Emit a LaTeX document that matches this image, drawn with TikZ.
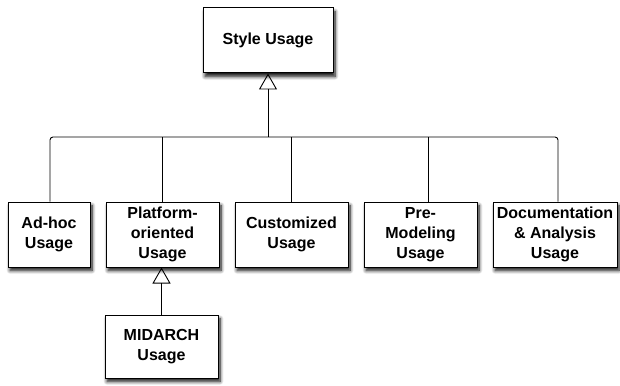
\documentclass[tikz,border=0pt]{standalone}
\usepackage{fontspec}
\setmainfont{Liberation Sans}
\usetikzlibrary{arrows.meta,shadows.blur}
\begin{document}
\begin{tikzpicture}[x=1pt,y=-1pt,
  usage/.style={draw=black, line width=1pt, fill=white, rectangle, align=center,
    minimum height=65pt, inner sep=2pt,
    font=\fontsize{16}{20}\selectfont\bfseries,
    blur shadow={shadow xshift=2pt, shadow yshift=-3.5pt, shadow blur steps=8, shadow blur radius=3.5pt, shadow opacity=95}},
  conn/.style={line width=0.9pt, draw=black},
  gen/.style={conn, -{Triangle[open, width=18pt, length=16pt, line width=0.9pt]}}]
\useasboundingbox (0,0) rectangle (620,385);
\node[usage, minimum width=130pt] (style) at (268,40.5) {Style Usage};
\node[usage, minimum width=82pt] (adhoc) at (49,234.5) {Ad-hoc\\Usage};
\node[usage, minimum width=113pt] (plat) at (162.5,234.5) {Platform-\\oriented\\Usage};
\node[usage, minimum width=113pt] (cust) at (291.5,234.5) {Customized\\Usage};
\node[usage, minimum width=113pt] (pre) at (420.5,234.5) {Pre-\\Modeling\\Usage};
\node[usage, minimum width=124pt] (doc) at (555,234.5) {Documentation\\\& Analysis\\Usage};
\node[usage, minimum width=113pt, minimum height=63pt] (mid) at (161.5,346.5) {MIDARCH\\Usage};
\coordinate (bus) at (0,137);
\coordinate (join) at (style.south |- bus);
\draw[conn, rounded corners=3pt] ([xshift=1pt]adhoc.north) -- ([xshift=1pt]adhoc.north |- bus)
  -- ([xshift=3pt]doc.north |- bus) -- ([xshift=3pt]doc.north);
\draw[conn] (plat.north) -- (plat.north |- bus);
\draw[conn] (cust.north) -- (cust.north |- bus);
\draw[conn] ([xshift=7.5pt]pre.north) -- ([xshift=7.5pt]pre.north |- bus);
\draw[gen] (join) -- (style.south);
\draw[gen] (mid.north) -- (mid.north |- plat.south);
\end{tikzpicture}
\end{document}
